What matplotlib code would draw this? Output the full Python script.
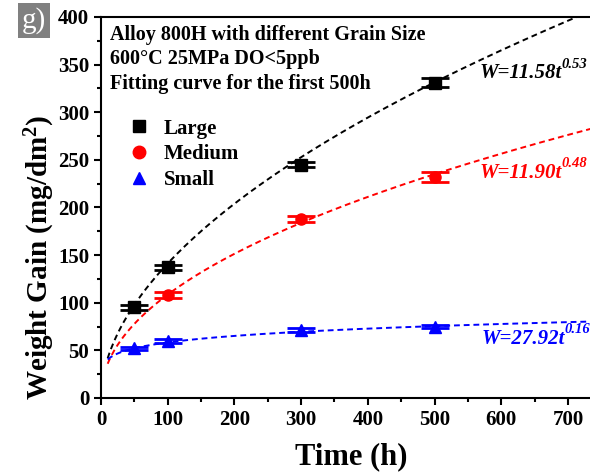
import numpy as np
import matplotlib
matplotlib.use("Agg")
import matplotlib.pyplot as plt
from matplotlib.lines import Line2D
from matplotlib.patches import Rectangle
from matplotlib.ticker import MultipleLocator

# Measured weight gain (mg/dm^2) vs exposure time (h)
t_large = [50, 100, 300, 500]
w_large = [95, 137, 245, 331]
e_large = [3, 3, 3, 5]

t_medium = [100, 300, 500]
w_medium = [108, 188, 232]
e_medium = [3, 3, 5]

t_small = [50, 100, 300, 500]
w_small = [52, 60, 71, 75]
e_small = [2, 2, 2, 2]

# Power-law fits W = a * t^n as drawn
fit_large = (12.3, 0.53)
fit_medium = (11.90, 0.48)
fit_small = (27.92, 0.16)
eq_labels = [("W=11.58t", "0.53"), ("W=11.90t", "0.48"), ("W=27.92t", "0.16")]
eq_pos = [(0.774, 0.84), (0.774, 0.578), (0.778, 0.142)]

plt.rcParams["font.family"] = ["Liberation Serif", "DejaVu Serif"]
plt.rcParams["font.weight"] = "bold"
plt.rcParams["mathtext.fontset"] = "custom"
plt.rcParams["mathtext.rm"] = "Liberation Serif:bold"
plt.rcParams["mathtext.it"] = "Liberation Serif:bold:italic"
plt.rcParams["mathtext.bf"] = "Liberation Serif:bold"

fig = plt.figure(figsize=(5.9, 4.73), dpi=100)
ax = fig.add_axes([0.1712, 0.1586, 0.8288, 0.8055])

tt = np.linspace(10, 735, 300)
series = [
    (t_large, w_large, e_large, fit_large, "black", "s", "Large"),
    (t_medium, w_medium, e_medium, fit_medium, "red", "o", "Medium"),
    (t_small, w_small, e_small, fit_small, "blue", "^", "Small"),
]
handles = []
for t, w, e, (a, n), c, m, lab in series:
    ax.plot(tt, a * tt ** n, ls=(0, (3, 2)), color=c, lw=1.4, zorder=2)
    ax.errorbar(t, w, yerr=e, fmt=m, color=c, ms=8, capsize=10,
                capthick=2, elinewidth=2, zorder=3)
    handles.append(Line2D([], [], ls="none", marker=m, color=c, ms=9,
                          label=lab))

ax.set_xlim(0, 733)
ax.set_ylim(0, 400)
ax.xaxis.set_major_locator(MultipleLocator(100))
ax.xaxis.set_minor_locator(MultipleLocator(50))
ax.yaxis.set_major_locator(MultipleLocator(50))
ax.yaxis.set_minor_locator(MultipleLocator(25))
ax.tick_params(which="both", direction="out", width=1.5)
ax.tick_params(which="major", length=5, labelsize=15)
ax.tick_params(which="minor", length=3)
for lbl in ax.get_xticklabels() + ax.get_yticklabels():
    lbl.set_fontweight("bold")
for s in ["left", "bottom", "top"]:
    ax.spines[s].set_linewidth(1.5)
ax.spines["right"].set_visible(False)

ax.set_xlabel("Time (h)", fontsize=22, fontweight="bold")
ax.xaxis.set_label_coords(0.511, -0.115)
ax.set_ylabel(r"Weight Gain (mg/dm$^\mathbf{2}$)", fontsize=21,
              fontweight="bold")
ax.yaxis.set_label_coords(-0.09, 0.37)

ax.text(0.018, 0.98, "Alloy 800H with different Grain Size\n"
        "600\u00b0C 25MPa DO<5ppb\nFitting curve for the first 500h",
        transform=ax.transAxes, va="top", ha="left", fontsize=14.5,
        fontweight="bold", linespacing=1.3)

ax.legend(handles=handles, loc="upper left", bbox_to_anchor=(0.035, 0.755),
          frameon=False, fontsize=15, handletextpad=0.6, labelspacing=0.28,
          handlelength=1.2, borderaxespad=0)

for (main, sup), (x, y), c in zip(eq_labels, eq_pos, ["black", "red", "blue"]):
    base = ax.text(x, y, main, transform=ax.transAxes, fontsize=15,
                   color=c, style="italic", fontweight="bold")
    ax.annotate(sup, xy=(1.0, 0.62), xycoords=base, fontsize=10.5,
                color=c, style="italic", fontweight="bold",
                ha="left", va="bottom")

fig.patches.append(Rectangle((18 / 590, 1 - 38 / 473), 32 / 590, 35 / 473,
                             transform=fig.transFigure, fc="#808080",
                             ec="none"))
fig.text(34 / 590, 1 - 21 / 473, "g)", fontsize=21, color="white",
         fontweight="normal", va="center", ha="center")

fig.savefig("out.png", dpi=100)
